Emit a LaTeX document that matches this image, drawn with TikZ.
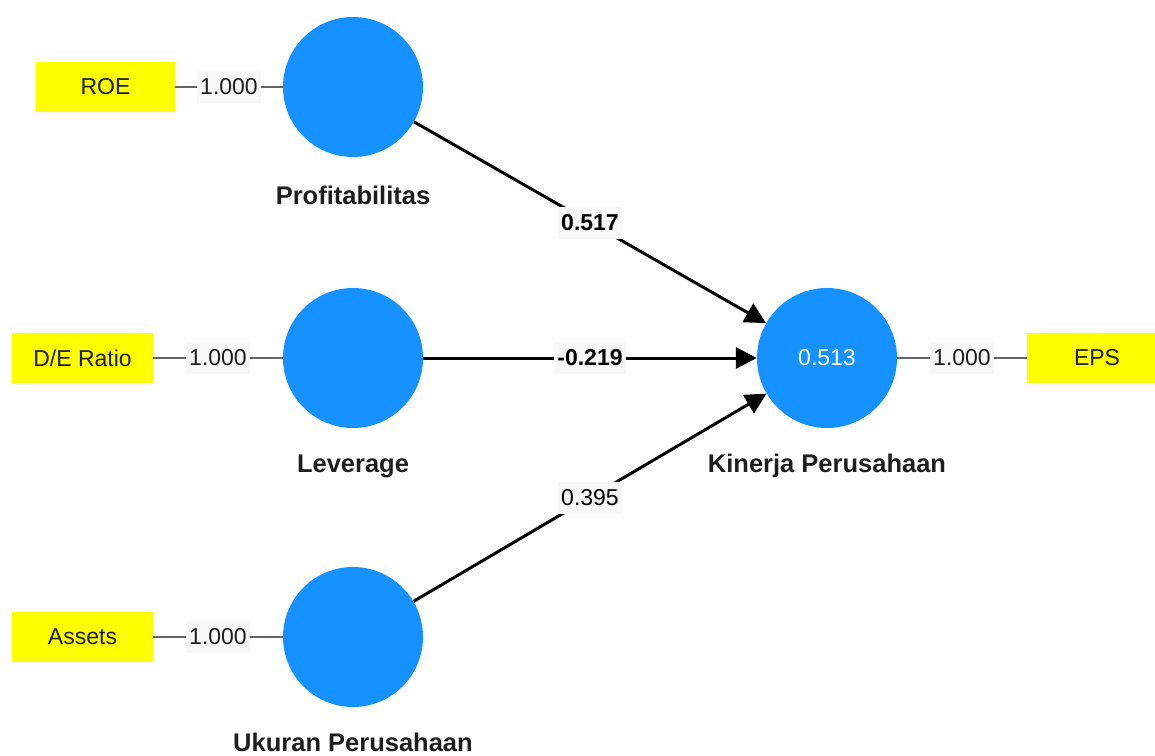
\documentclass[tikz,border=0pt]{standalone}
\usepackage{fontspec}
\setmainfont{Liberation Sans}
\usetikzlibrary{arrows.meta}
\definecolor{lvblue}{RGB}{21,146,255}
\definecolor{indyel}{RGB}{255,255,0}
\definecolor{lblbg}{RGB}{248,248,248}
\definecolor{measgray}{RGB}{100,100,100}
\definecolor{txtdark}{RGB}{30,30,30}
\begin{document}
\begin{tikzpicture}[x=1pt,y=-1pt,
  lv/.style={circle,fill=lvblue,draw=none,minimum size=140pt,inner sep=0pt,
    text=white,font=\fontsize{23}{27}\selectfont},
  lvname/.style={font=\fontsize{25.5}{29}\selectfont\bfseries,text=txtdark,inner sep=0pt},
  ind/.style={rectangle,fill=indyel,draw=none,minimum height=50pt,inner sep=0pt,
    text=txtdark,font=\fontsize{23}{27}\selectfont},
  meas/.style={draw=measgray,line width=2.5pt},
  mlabel/.style={fill=lblbg,text=txtdark,inner xsep=3pt,minimum height=32pt,
    font=\fontsize{23}{27}\selectfont},
  path/.style={draw=black,line width=3pt,-{Triangle[length=21pt,width=21pt]}},
  plabel/.style={fill=lblbg,text=black,inner xsep=3pt,minimum height=32pt,
    font=\fontsize{23}{27}\selectfont\bfseries},
  plabelr/.style={fill=lblbg,text=black,inner xsep=3pt,minimum height=32pt,
    font=\fontsize{23}{27}\selectfont}
]
\useasboundingbox (0,0) rectangle (1155,755);
% latent variables
\node[lv] (prof) at (353,87) {};
\node[lv] (lev) at (353,358) {};
\node[lv] (size) at (353,637) {};
\node[lv] (kin) at (827,358) {0.513};
% latent names
\node[lvname] (profl) at (353,195) {Profitabilitas};
\node[lvname] (levl) at (353,466) {Leverage};
\node[lvname] (sizel) at (353,742) {Ukuran Perusahaan};
\node[lvname] (kinl) at (827,466) {Kinerja Perusahaan};
% indicators
\node[ind,minimum width=139pt] (roe) at (105.5,87) {ROE};
\node[ind,minimum width=141pt] (der) at (82.5,358) {D/E Ratio};
\node[ind,minimum width=141pt] (ast) at (82.5,637) {Assets};
\node[ind,minimum width=140pt] (eps) at (1097,358) {EPS};
% measurement lines
\draw[meas] (roe) -- node[mlabel] (m1) {1.000} (prof);
\draw[meas] (der) -- node[mlabel] (m2) {1.000} (lev);
\draw[meas] (ast) -- node[mlabel] (m3) {1.000} (size);
\draw[meas] (kin) -- node[mlabel] (m4) {1.000} (eps);
% structural paths
\draw[path] (prof) -- node[plabel] (p1) {0.517} (kin);
\draw[path] (lev) -- node[plabel] (p2) {-0.219} (kin);
\draw[path] (size) -- node[plabelr] (p3) {0.395} (kin);
\end{tikzpicture}
\end{document}
